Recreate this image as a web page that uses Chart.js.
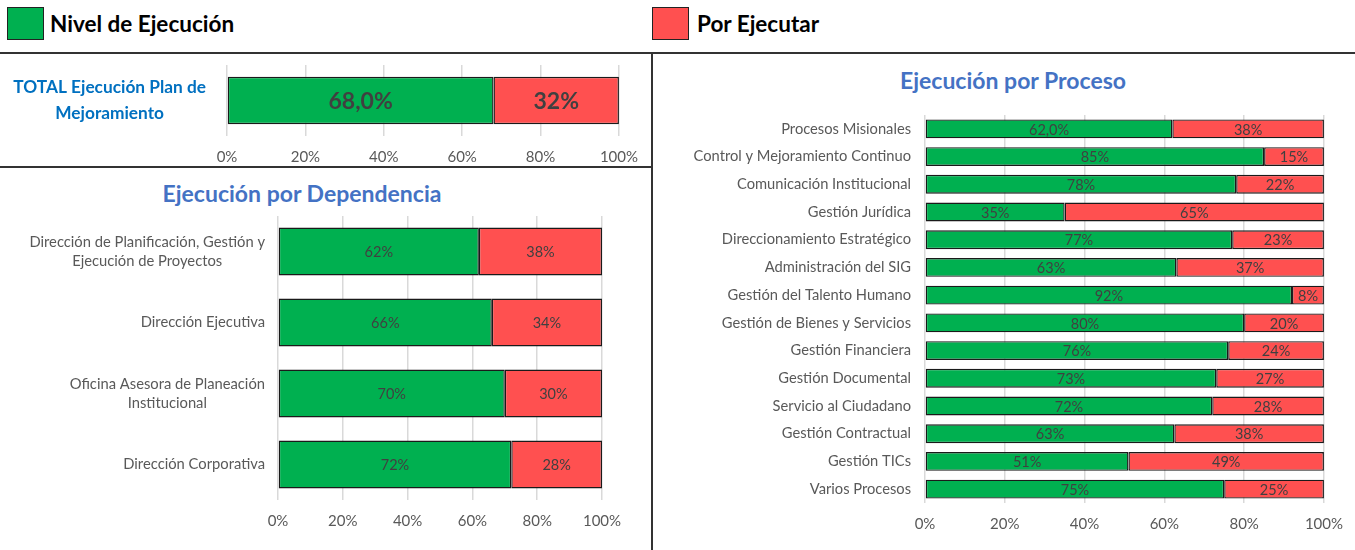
<!DOCTYPE html>
<html lang="es">
<head>
<meta charset="utf-8">
<title>Ejecución Plan de Mejoramiento</title>
<script src="https://cdn.jsdelivr.net/npm/chart.js@4.4.1/dist/chart.umd.min.js"></script>
<style>
    body { margin: 0; width: 1355px; height: 550px; background: #fff; position: relative; overflow: hidden; font-family: Lato, "Open Sans", sans-serif; }
    .abs { position: absolute; }
    .cuadro { position: absolute; width: 37px; height: 33px; border: 1.5px solid #222; box-sizing: border-box; }
    .leyenda { position: absolute; font-weight: bold; font-size: 22.5px; color: #000; line-height: 26px; }
    .linea { position: absolute; background: #333; }
    .titulo { position: absolute; font-weight: bold; font-size: 23px; color: #4472C4; transform: translateX(-50%); white-space: nowrap; }
</style>
</head>
<body>
<div class="cuadro" style="left:7px; top:7px; background:#00B050;"></div>
<div class="leyenda" style="left:50px; top:11px;">Nivel de Ejecución</div>
<div class="cuadro" style="left:652px; top:7px; background:#FF5050;"></div>
<div class="leyenda" style="left:697px; top:11px;">Por Ejecutar</div>

<div class="linea" style="left:0; top:52px; width:1355px; height:2px;"></div>
<div class="linea" style="left:651px; top:52px; width:2px; height:498px;"></div>
<div class="linea" style="left:0; top:166px; width:652px; height:2px;"></div>

<div class="titulo" style="left:302px; top:179px;">Ejecución por Dependencia</div>
<div class="titulo" style="left:1013px; top:66px;">Ejecución por Proceso</div>

<div class="abs" style="left:0; top:55px; width:650px; height:111px;"><canvas id="chartTotal"></canvas></div>
<div class="abs" style="left:0; top:169px; width:650px; height:381px;"><canvas id="chartDependencia"></canvas></div>
<div class="abs" style="left:654px; top:55px; width:701px; height:495px;"><canvas id="chartProceso"></canvas></div>

<script>
// Datos
const totalCategorias = [['TOTAL Ejecución Plan de', 'Mejoramiento']];
const totalEjecutado = [68.0];
const totalPendiente = [32];
const totalDecimales = [1];

const dependencias = [
    ['Dirección de Planificación, Gestión y', 'Ejecución de Proyectos'],
    'Dirección Ejecutiva',
    ['Oficina Asesora de Planeación', 'Institucional'],
    'Dirección Corporativa'
];
const depEjecutado = [62, 66, 70, 72];
const depPendiente = [38, 34, 30, 28];

const procesos = [
    'Procesos Misionales',
    'Control y Mejoramiento Continuo',
    'Comunicación Institucional',
    'Gestión Jurídica',
    'Direccionamiento Estratégico',
    'Administración del SIG',
    'Gestión del Talento Humano',
    'Gestión de Bienes y Servicios',
    'Gestión Financiera',
    'Gestión Documental',
    'Servicio al Ciudadano',
    'Gestión Contractual',
    'Gestión TICs',
    'Varios Procesos'
];
const procEjecutado = [62.0, 85, 78, 35, 77, 63, 92, 80, 76, 73, 72, 62.5, 51, 75];
const procPendiente = [38, 15, 22, 65, 23, 37, 8, 20, 24, 27, 28, 37.5, 49, 25];
const procDecimales = [1, 0, 0, 0, 0, 0, 0, 0, 0, 0, 0, 0, 0, 0];

const FUENTE = 'Lato, "Open Sans", sans-serif';
const VERDE = '#00B050';
const ROJO = '#FF5050';
const GRIS_TEXTO = '#595959';

function formato(valor, decimales) {
    return valor.toFixed(decimales || 0).replace('.', ',') + '%';
}

// Etiquetas de valor en el centro de cada segmento
const etiquetasValor = {
    id: 'etiquetasValor',
    afterDatasetsDraw(chart, args, opts) {
        const ctx = chart.ctx;
        ctx.save();
        ctx.font = opts.font;
        ctx.fillStyle = opts.color;
        ctx.textAlign = 'center';
        ctx.textBaseline = 'middle';
        chart.data.datasets.forEach((ds, i) => {
            const meta = chart.getDatasetMeta(i);
            meta.data.forEach((bar, j) => {
                const p = bar.getProps(['x', 'y', 'base'], true);
                const dec = ds.decimales ? ds.decimales[j] : 0;
                ctx.fillText(formato(ds.data[j], dec), (p.x + p.base) / 2, p.y + 1);
            });
        });
        ctx.restore();
    }
};

// Etiquetas de categoría: bloque alineado a la derecha, líneas centradas entre sí
const etiquetasCategoria = {
    id: 'etiquetasCategoria',
    afterDraw(chart, args, opts) {
        const escala = chart.scales.y;
        const ctx = chart.ctx;
        ctx.save();
        ctx.font = opts.font;
        ctx.fillStyle = opts.color;
        ctx.textAlign = 'center';
        ctx.textBaseline = 'middle';
        chart.data.labels.forEach((etiqueta, i) => {
            const lineas = Array.isArray(etiqueta) ? etiqueta : [etiqueta];
            const ancho = Math.max(...lineas.map(l => ctx.measureText(l).width));
            const cx = escala.right - opts.padding - ancho / 2;
            const cy = escala.getPixelForTick(i);
            const inicio = cy - (lineas.length - 1) * opts.lineHeight / 2;
            lineas.forEach((l, k) => ctx.fillText(l, cx, inicio + k * opts.lineHeight));
        });
        ctx.restore();
    }
};

function crearGrafico(id, categorias, ejecutado, pendiente, decimales, cfg) {
    return new Chart(document.getElementById(id), {
        type: 'bar',
        data: {
            labels: categorias,
            datasets: [
                {
                    label: 'Nivel de Ejecución',
                    data: ejecutado,
                    decimales: decimales,
                    backgroundColor: VERDE,
                    borderColor: '#1a1a1a',
                    borderWidth: 1.4,
                    borderSkipped: false,
                    barPercentage: cfg.barra,
                    categoryPercentage: 1
                },
                {
                    label: 'Por Ejecutar',
                    data: pendiente,
                    backgroundColor: ROJO,
                    borderColor: '#1a1a1a',
                    borderWidth: 1.4,
                    borderSkipped: false,
                    barPercentage: cfg.barra,
                    categoryPercentage: 1
                }
            ]
        },
        options: {
            indexAxis: 'y',
            responsive: true,
            maintainAspectRatio: false,
            animation: false,
            layout: {
                padding: { top: cfg.arriba, bottom: cfg.abajo, right: cfg.derecha, left: 0 }
            },
            plugins: {
                legend: { display: false },
                tooltip: { enabled: false },
                etiquetasValor: { font: cfg.fuenteValor, color: '#404040' },
                etiquetasCategoria: {
                    font: cfg.fuenteCategoria,
                    color: cfg.colorCategoria,
                    padding: cfg.separacion,
                    lineHeight: cfg.interlineado
                }
            },
            scales: {
                x: {
                    stacked: true,
                    min: 0,
                    max: 100,
                    border: { display: false },
                    grid: { color: '#d9d9d9', lineWidth: 1.5, drawTicks: false },
                    ticks: {
                        stepSize: 20,
                        padding: 12,
                        color: GRIS_TEXTO,
                        font: { family: FUENTE, size: 15 },
                        callback: v => v + '%'
                    },
                    afterFit: s => { s.height = 30; }
                },
                y: {
                    stacked: true,
                    border: { display: false },
                    grid: { display: false },
                    ticks: { display: false },
                    afterFit: s => { s.width = cfg.anchoEje; }
                }
            }
        },
        plugins: [etiquetasValor, etiquetasCategoria]
    });
}

crearGrafico('chartTotal', totalCategorias, totalEjecutado, totalPendiente, totalDecimales, {
    barra: 0.667, arriba: 10, abajo: 0, derecha: 30, anchoEje: 227,
    fuenteValor: 'bold 23px ' + FUENTE,
    fuenteCategoria: 'bold 17.3px ' + FUENTE, colorCategoria: '#0070C0',
    separacion: 21, interlineado: 26
});

crearGrafico('chartDependencia', dependencias, depEjecutado, depPendiente, null, {
    barra: 0.676, arriba: 47, abajo: 20, derecha: 48, anchoEje: 278,
    fuenteValor: '14.5px ' + FUENTE,
    fuenteCategoria: '14.75px ' + FUENTE, colorCategoria: GRIS_TEXTO,
    separacion: 13, interlineado: 19
});

crearGrafico('chartProceso', procesos, procEjecutado, procPendiente, procDecimales, {
    barra: 0.68, arriba: 60, abajo: 17, derecha: 30, anchoEje: 271,
    fuenteValor: '14.5px ' + FUENTE,
    fuenteCategoria: '14.7px ' + FUENTE, colorCategoria: GRIS_TEXTO,
    separacion: 14, interlineado: 18
});
</script>
</body>
</html>
